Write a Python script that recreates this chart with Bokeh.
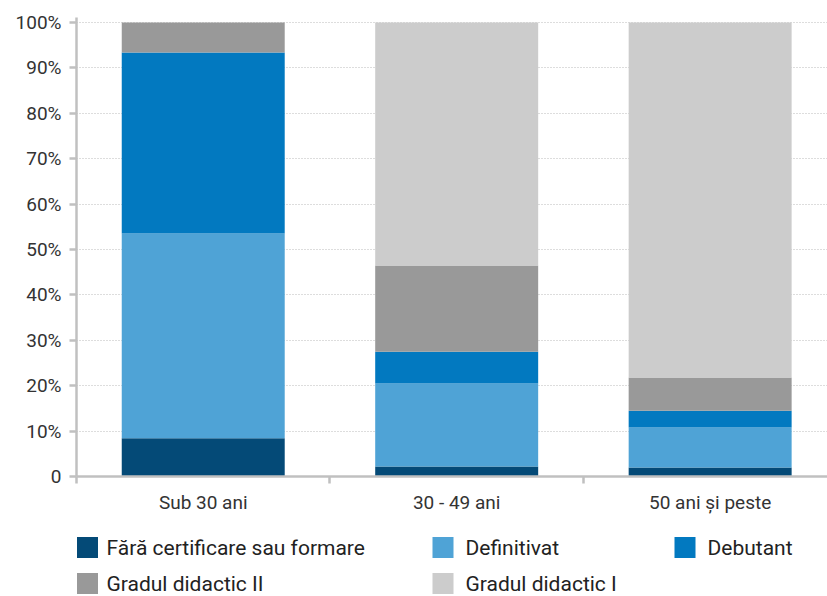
from bokeh.plotting import figure
from bokeh.models import FixedTicker, ColumnDataSource, Range1d
from bokeh.layouts import column
from bokeh.core.properties import value
from bokeh.embed import file_html
from bokeh.resources import INLINE

categories = ["Sub 30 ani", "30 - 49 ani", "50 ani și peste"]
series = ["Fără certificare sau formare", "Definitivat", "Debutant", "Gradul didactic II", "Gradul didactic I"]
fara = [8.4, 2.2, 2.0]
definitivat = [45.1, 18.3, 8.8]
debutant = [39.9, 7.0, 3.7]
gradul2 = [6.6, 19.0, 7.3]
gradul1 = [0.0, 53.5, 78.2]
colors = ["#044a77", "#4fa3d6", "#0279c0", "#999999", "#cccccc"]
y_ticks = [0, 10, 20, 30, 40, 50, 60, 70, 80, 90, 100]
y_labels = ["0", "10%", "20%", "30%", "40%", "50%", "60%", "70%", "80%", "90%", "100%"]

FONT = "Roboto"
keys = ["s0", "s1", "s2", "s3", "s4"]
xs = [i + 0.5 for i in range(len(categories))]
src = ColumnDataSource(dict(x=xs, s0=fara, s1=definitivat, s2=debutant, s3=gradul2, s4=gradul1))

p = figure(width=827, height=520, output_backend="svg", toolbar_location=None,
           x_range=Range1d(0, 2.963), y_range=Range1d(0, 101.1),
           min_border_left=76, min_border_right=0, min_border_top=17, min_border_bottom=44)
p.outline_line_color = None

p.vbar_stack(keys, x="x", width=0.643, source=src, color=colors, line_color=None)

p.xgrid.visible = False
p.ygrid.grid_line_color = "#bbbbbb"
p.ygrid.grid_line_dash = "1 2"
p.ygrid.grid_line_width = 1
p.ygrid.ticker = FixedTicker(ticks=y_ticks)

ya = p.yaxis[0]
ya.ticker = FixedTicker(ticks=y_ticks)
ya.major_label_overrides = {t: l for t, l in zip(y_ticks, y_labels)}
ya.axis_line_color = "#c0c0c0"
ya.axis_line_width = 2.5
ya.major_tick_line_color = "#c0c0c0"
ya.major_tick_line_width = 2.5
ya.major_tick_out = 7
ya.major_tick_in = 0
ya.minor_tick_line_color = None
ya.major_label_text_font = FONT
ya.major_label_text_font_size = "19px"
ya.major_label_text_color = "#333333"
ya.major_label_standoff = 8

xa = p.xaxis[0]
xa.ticker = FixedTicker(ticks=xs, minor_ticks=[0, 1, 2])
xa.major_label_overrides = {x: c for x, c in zip(xs, categories)}
xa.axis_line_color = "#c0c0c0"
xa.axis_line_width = 2.5
xa.major_tick_line_color = None
xa.minor_tick_line_color = "#c0c0c0"
xa.minor_tick_line_width = 2.5
xa.minor_tick_out = 7
xa.minor_tick_in = 0
xa.major_label_text_font = FONT
xa.major_label_text_font_size = "19px"
xa.major_label_text_color = "#333333"
xa.major_label_standoff = 7

# legend area: frame is aligned with the main plot's frame (x 76..827 in page pixels)
lg = figure(width=827, height=76, output_backend="svg", toolbar_location=None,
            x_range=Range1d(76, 827), y_range=Range1d(76, 0),
            min_border_left=76, min_border_right=0, min_border_top=0, min_border_bottom=0)
lg.axis.visible = False
lg.grid.visible = False
lg.outline_line_color = None
sq_x = [87, 442.5, 684.5, 87, 442.5]
sq_y = [27, 27, 27, 63, 63]
tx = [106, 465, 707, 106, 465]
lsrc = ColumnDataSource(dict(x=sq_x, y=sq_y, tx=tx, c=colors, t=series))
lg.rect(x="x", y="y", width=21, height=21, fill_color="c", line_color=None, source=lsrc)
lg.text(x="tx", y="y", text="t", source=lsrc, text_font=value(FONT), text_font_size="21px",
        text_color="#222222", text_baseline="middle", text_align="left")

layout = column(p, lg, spacing=0)
open("out.html", "w").write(file_html(layout, INLINE))
